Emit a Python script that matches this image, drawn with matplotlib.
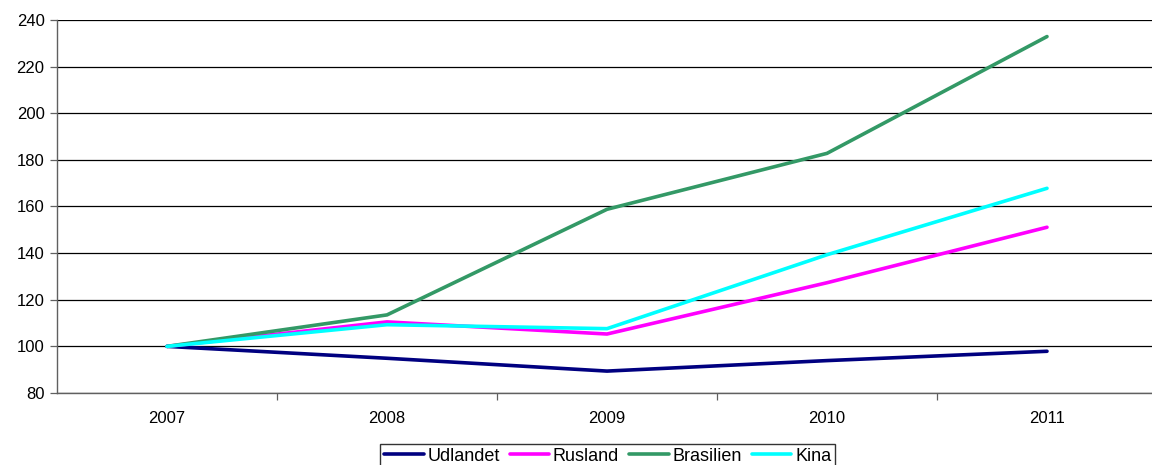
import matplotlib.pyplot as plt
from matplotlib.ticker import FixedLocator, NullFormatter

plt.rcParams['font.family'] = ['Liberation Sans', 'DejaVu Sans']

years = ['2007', '2008', '2009', '2010', '2011']
udlandet = [100, 94.9, 89.4, 93.9, 97.9]
rusland = [100, 110.5, 105.3, 127.3, 151.1]
brasilien = [100, 113.5, 158.8, 182.8, 232.9]
kina = [100, 109.3, 107.6, 139.3, 167.8]

series = [
    ('Udlandet', udlandet, '#000080'),
    ('Rusland', rusland, '#FF00FF'),
    ('Brasilien', brasilien, '#339966'),
    ('Kina', kina, '#00FFFF'),
]

fig = plt.figure(figsize=(11.52, 4.65), dpi=100)
ax = fig.add_axes([57 / 1152, 1 - 393 / 465, 1100 / 1152, 373 / 465])

x = list(range(len(years)))
for name, vals, col in series:
    ax.plot(x, vals, color=col, lw=2.6, label=name, solid_capstyle='round', zorder=3)

ax.set_xlim(-0.5, len(years) - 0.5)
ax.set_ylim(80, 240)
ax.set_yticks(range(80, 241, 20))
ax.yaxis.grid(True, color='black', lw=0.9)
ax.set_axisbelow(True)

ax.set_xticks(x)
ax.set_xticklabels(years)
ax.tick_params(axis='x', which='major', length=0, pad=13, labelsize=12)
ax.xaxis.set_minor_locator(FixedLocator([i + 0.5 for i in range(len(years) - 1)]))
ax.xaxis.set_minor_formatter(NullFormatter())
ax.tick_params(axis='x', which='minor', length=5, width=0.9, color='#606060')
ax.tick_params(axis='y', length=5, width=0.9, color='#606060', labelsize=12, pad=4)

for side in ('top', 'right'):
    ax.spines[side].set_visible(False)
for side in ('left', 'bottom'):
    ax.spines[side].set_color('#606060')
    ax.spines[side].set_linewidth(1.0)

leg = fig.legend(loc='center', bbox_to_anchor=(607.5 / 1152, 1 - 456 / 465), ncol=4,
                 frameon=True, fancybox=False, fontsize=13, handlelength=2.2,
                 handletextpad=0.2, columnspacing=0.55, borderpad=0.2,
                 edgecolor='black', borderaxespad=0)
leg.get_frame().set_linewidth(1.0)

fig.savefig('out.png', dpi=100)
